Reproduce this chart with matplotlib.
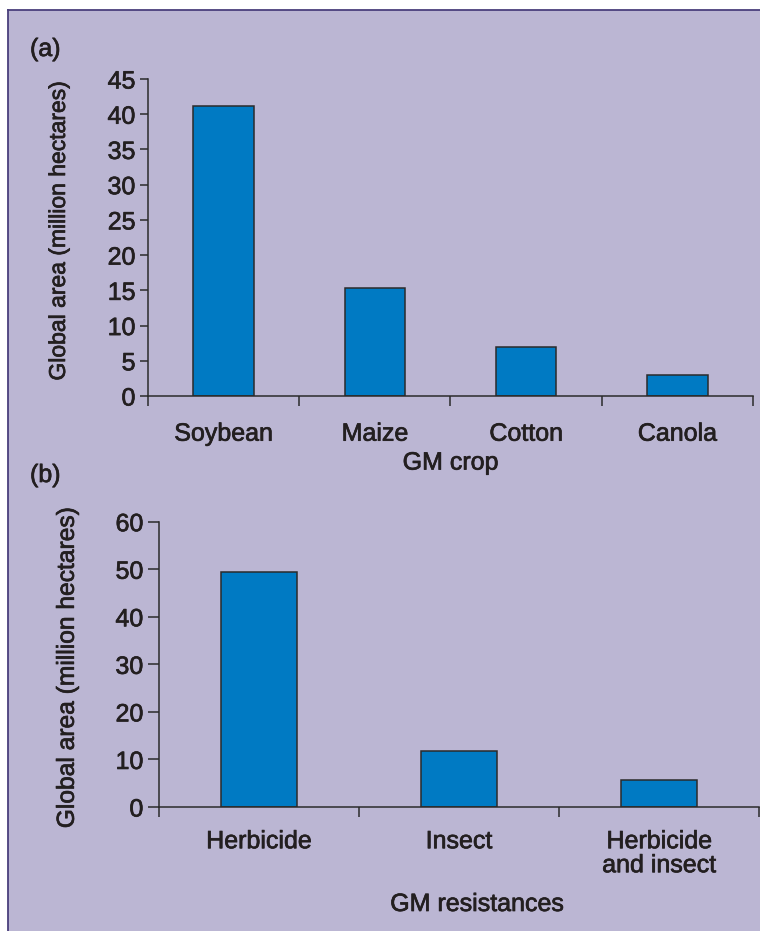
import matplotlib.pyplot as plt
import matplotlib.patheffects as pe
from matplotlib.patches import Rectangle
from matplotlib.lines import Line2D

plt.rcParams['font.family'] = ['Liberation Sans', 'DejaVu Sans']

# GM crop areas (million hectares)
crops = ['Soybean', 'Maize', 'Cotton', 'Canola']
crop_area = [41.1, 15.3, 7.0, 3.0]

# GM traits (million hectares)
traits = ['Herbicide', 'Insect', 'Herbicide\nand insect']
trait_area = [49.5, 11.8, 5.7]

BG = '#bbb6d3'
BAR = '#007ac3'
INK = '#231f20'
EDGE = '#2b2b2b'
W, H = 760, 931
FS = 18

# a hairline stroke gives the text a slightly heavier weight
heavy = [pe.withStroke(linewidth=0.5, foreground=INK)]

fig = plt.figure(figsize=(W / 100, H / 100), dpi=100, facecolor='white')

# lavender panel with a purple rule along the top and left
fig.add_artist(Rectangle((8 / W, 0), 1, 1 - 10 / H, transform=fig.transFigure,
                         facecolor=BG, edgecolor='none', zorder=-10))
fig.add_artist(Line2D([8 / W, 8 / W], [0, 1 - 10 / H], transform=fig.transFigure,
                      color='#4a3f7c', lw=1.3, zorder=-9))
fig.add_artist(Line2D([8 / W, 1], [1 - 10 / H, 1 - 10 / H], transform=fig.transFigure,
                      color='#4a3f7c', lw=1.3, zorder=-9))


def bar_panel(rect, names, values, ymax, ystep, width, ytick_len, xpad):
    ax = fig.add_axes(rect)
    ax.set_facecolor('none')
    n = len(names)
    centers = [i + 0.5 for i in range(n)]
    ax.bar(centers, values, width=width, color=BAR, edgecolor=EDGE, linewidth=1.1, zorder=3)
    ax.set_xlim(0, n)
    ax.set_ylim(0, ymax)
    for s in ['top', 'right']:
        ax.spines[s].set_visible(False)
    for s in ['left', 'bottom']:
        ax.spines[s].set_color(EDGE)
        ax.spines[s].set_linewidth(1.1)
        ax.spines[s].set_zorder(4)
    ax.set_yticks(range(0, ymax + 1, ystep))
    ax.tick_params(axis='y', direction='out', length=ytick_len, width=1.1, color=EDGE,
                   pad=3, labelsize=FS, labelcolor=INK)
    # boundary ticks carry no labels; category names sit on minor ticks
    ax.set_xticks(range(n + 1))
    ax.set_xticklabels([])
    ax.set_xticks(centers, minor=True)
    ax.set_xticklabels(names, minor=True, fontsize=FS, color=INK, linespacing=1.0)
    ax.tick_params(axis='x', which='major', direction='out', length=7.5, width=1.1, color=EDGE)
    ax.tick_params(axis='x', which='minor', length=0, pad=xpad)
    for t in ax.get_yticklabels() + ax.get_xticklabels(minor=True):
        t.set_path_effects(heavy)
    return ax


ax1 = bar_panel([148 / W, 1 - 396 / H, 605 / W, 317 / H], crops, crop_area,
                45, 5, 0.4, 6, 18.5)
ax1.set_ylabel('Global area (million hectares)', fontsize=16.5, color=INK, va='center',
               path_effects=heavy)
ax1.yaxis.set_label_coords(-0.148, 0.52)
ax1.set_xlabel('GM crop', fontsize=FS, color=INK, va='center', path_effects=heavy)
ax1.xaxis.set_label_coords(0.50, -0.21)

ax2 = bar_panel([158.7 / W, 1 - 807 / H, 600.5 / W, 285.3 / H], traits, trait_area,
                60, 10, 0.38, 8, 16)
ax2.set_ylabel('Global area (million hectares)', fontsize=17.7, color=INK, va='center',
               path_effects=heavy)
ax2.yaxis.set_label_coords(-0.153, 0.487)
ax2.set_xlabel('GM resistances', fontsize=FS, color=INK, va='center', path_effects=heavy)
ax2.xaxis.set_label_coords(0.53, -0.34)

fig.text(30 / W, 1 - 49 / H, '(a)', fontsize=FS, color=INK, va='center', ha='left',
         path_effects=heavy)
fig.text(30 / W, 1 - 475 / H, '(b)', fontsize=FS, color=INK, va='center', ha='left',
         path_effects=heavy)

fig.savefig('out.png', dpi=100, facecolor=fig.get_facecolor())
